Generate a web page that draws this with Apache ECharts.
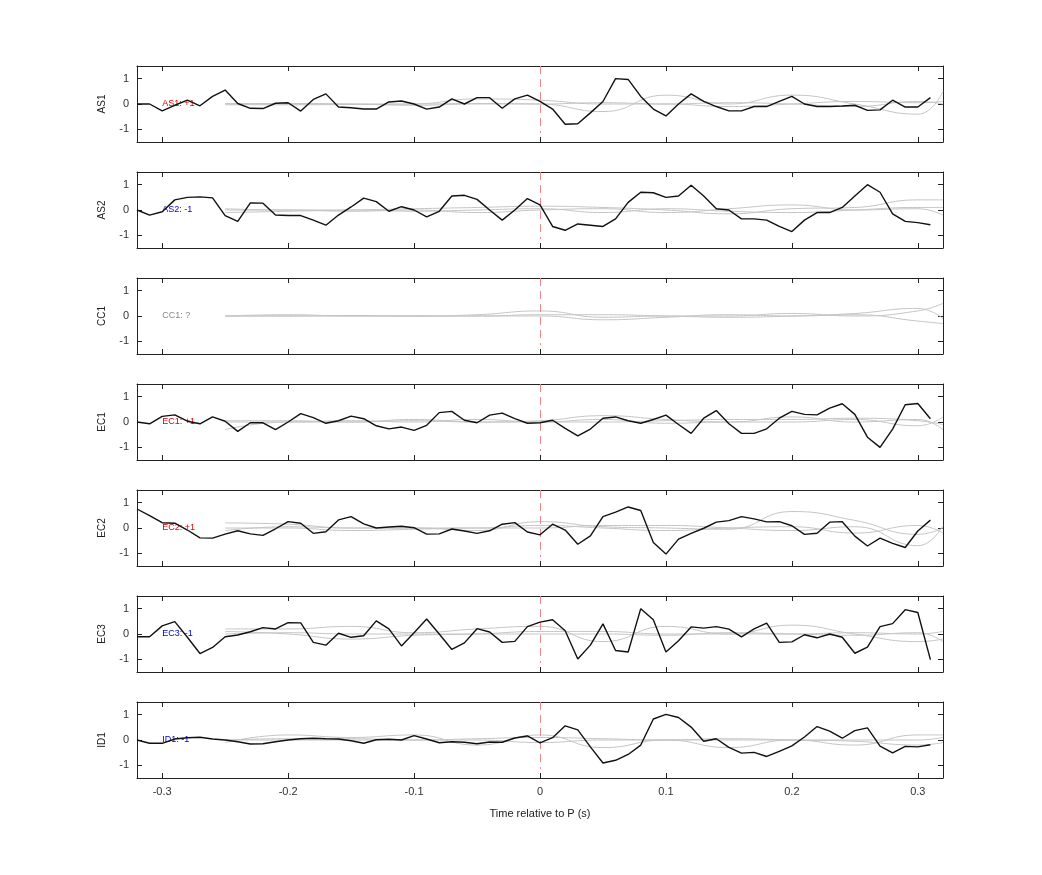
<!DOCTYPE html>
<html>
<head>
<meta charset="utf-8">
<title>Stations</title>
<style>
html,body,#main{margin:0;padding:0;width:1042px;height:875px;background:#fff}
</style>
</head>
<body>
<div id="main"></div>
<script src="https://cdn.jsdelivr.net/npm/echarts@6/dist/echarts.min.js"></script>
<script>
var stations = ['AS1', 'AS2', 'CC1', 'EC1', 'EC2', 'EC3', 'ID1'];
var tags = ['AS1: +1', 'AS2: -1', 'CC1: ?', 'EC1: +1', 'EC2: +1', 'EC3: -1', 'ID1: -1'];
var tagColors = ['#e00000', '#0000d0', '#888888', '#e00000', '#e00000', '#0000d0', '#0000d0'];
var xTicks = [-0.3, -0.2, -0.1, 0, 0.1, 0.2, 0.3];
var yTicks = [-1, 0, 1];

// black trace times: -0.32 .. 0.31 step 0.01
var times = [];
for (var k = -32; k <= 31; k++) times.push(k / 100);

var as1 = [0,0,-0.27,-0.05,0.15,-0.07,0.3,0.55,0.02,-0.17,-0.18,0.03,0.05,-0.28,0.18,0.4,-0.12,-0.15,-0.2,-0.2,0.08,0.12,0,-0.2,-0.12,0.2,0,0.25,0.25,-0.17,0.2,0.35,
  0.1,-0.2,-0.8,-0.78,-0.35,0.1,1.0,0.97,0.3,-0.2,-0.47,0,0.4,0.1,-0.1,-0.27,-0.27,-0.1,-0.1,0.1,0.3,0,-0.1,-0.1,-0.08,-0.05,-0.25,-0.23,0.15,-0.12,-0.12,0.25];
var as2 = [0,-0.2,-0.07,0.4,0.5,0.52,0.48,-0.22,-0.45,0.28,0.27,-0.2,-0.22,-0.22,-0.4,-0.6,-0.2,0.12,0.47,0.33,-0.05,0.13,0,-0.27,-0.05,0.55,0.58,0.42,0,-0.4,0,0.45,
  0.2,-0.65,-0.8,-0.55,-0.6,-0.65,-0.35,0.3,0.7,0.68,0.5,0.55,0.98,0.55,0.05,0,-0.35,-0.35,-0.4,-0.65,-0.85,-0.4,-0.1,-0.1,0.1,0.55,1.0,0.7,-0.15,-0.45,-0.5,-0.58];
var cc1 = null;
var ec1 = [0,-0.07,0.22,0.28,0.03,-0.07,0.2,0.03,-0.37,-0.03,-0.03,-0.3,0,0.33,0.17,-0.05,0.05,0.23,0.13,-0.15,-0.27,-0.2,-0.33,-0.13,0.37,0.42,0.07,-0.03,0.27,0.35,0.13,-0.05,
  -0.03,0.07,-0.25,-0.55,-0.28,0.15,0.2,0.05,-0.05,0.1,0.27,-0.1,-0.45,0.15,0.45,-0.07,-0.45,-0.45,-0.27,0.15,0.42,0.3,0.28,0.55,0.72,0.3,-0.6,-1.0,-0.28,0.68,0.73,0.13];
var ec2 = [0.75,0.49,0.21,0.19,-0.08,-0.39,-0.4,-0.24,-0.11,-0.23,-0.29,-0.03,0.25,0.19,-0.21,-0.15,0.32,0.45,0.16,0,0.04,0.07,0.01,-0.24,-0.23,-0.04,-0.12,-0.21,-0.11,0.15,0.21,-0.16,
  -0.27,0.15,-0.08,-0.64,-0.31,0.45,0.63,0.83,0.69,-0.57,-1.03,-0.44,-0.21,-0.01,0.23,0.29,0.45,0.36,0.24,0.25,0.09,-0.25,-0.21,0.23,0.25,-0.32,-0.71,-0.4,-0.61,-0.77,-0.12,0.31];
var ec3 = [-0.11,-0.11,0.32,0.49,-0.13,-0.77,-0.53,-0.11,-0.04,0.09,0.25,0.2,0.45,0.44,-0.33,-0.44,0.03,-0.13,-0.07,0.52,0.2,-0.47,0.05,0.59,0,-0.61,-0.35,0.21,0.08,-0.33,-0.29,0.29,
  0.47,0.56,0.13,-0.99,-0.44,0.4,-0.65,-0.71,1.0,0.56,-0.71,-0.27,0.28,0.23,0.29,0.19,-0.11,0.2,0.43,-0.33,-0.31,-0.03,-0.15,0,-0.13,-0.76,-0.52,0.29,0.41,0.96,0.85,-1.01];
var id1 = [0,-0.13,-0.13,0.04,0.09,0.11,0.04,0,-0.07,-0.16,-0.15,-0.07,0,0.05,0.07,0.05,0.04,-0.03,-0.13,0.01,0.03,0,0.17,0.04,-0.11,-0.07,-0.09,-0.15,-0.08,-0.09,0.08,0.16,
  -0.11,0.09,0.56,0.4,-0.27,-0.91,-0.8,-0.57,-0.2,0.83,1.01,0.89,0.51,-0.05,0.05,-0.29,-0.52,-0.49,-0.65,-0.45,-0.23,0.12,0.53,0.35,0.07,0.37,0.48,-0.24,-0.51,-0.25,-0.27,-0.19];
var traces = [as1, as2, cc1, ec1, ec2, ec3, id1];

// gray predicted waveforms, coarse knots
var gTimes = [-0.25,-0.2,-0.15,-0.1,-0.05,0,0.05,0.1,0.15,0.2,0.25,0.3,0.32];
var grays = [
  [[0,0,0,0,0.02,0,-0.3,0.35,0,0.35,0,-0.4,0.5],[-0.03,-0.03,-0.02,0,0.2,0.15,0,0,-0.1,0,0.1,0.05,0.1],[0.02,0.02,0,-0.05,0,0,0.05,0,0.05,0,-0.1,0.1,0]],
  [[-0.1,-0.05,0,0.05,0.1,0.15,0.1,0,-0.15,0.05,0.1,0.4,0.4],[0,0,-0.05,0,-0.1,0,0.05,-0.1,0.05,0.2,0,0.05,-0.2],[0.05,0,0,-0.05,0,0.05,-0.1,0.05,-0.05,-0.1,0,0.1,0.1]],
  [[0,0,0,0,0.05,0.2,-0.05,0,0,0.1,0,0.2,0.5],[0,0.05,0,0,0,0,-0.15,-0.05,0.05,0,0.05,-0.2,-0.3],[0,0,0.02,0,0,0.05,0.05,0,-0.05,0,0.1,0.3,-0.1]],
  [[-0.3,0,0,0.05,0,0.05,0.25,0.1,0,0.2,0,0.1,-0.3],[0.05,0.05,0,0.1,0,0,0,0.05,0.1,0.1,0.15,0.05,-0.1],[0,0,0.05,0,0.1,0,0.1,-0.05,0,0,0.1,-0.15,0.2]],
  [[0.2,0.15,0,0,-0.1,0.25,0.05,0,-0.05,0.65,0.3,-0.25,0],[0,0,-0.1,-0.05,0,0,0.1,0.1,0,-0.1,0.05,-0.7,0.1],[-0.1,0.05,0,0,0,0.1,0,-0.1,0,0.05,-0.2,0.1,-0.2]],
  [[0.2,0.2,0.3,0.05,0.2,0.3,-0.3,0.3,0,0.35,0,-0.3,-0.2],[0.1,0,-0.2,-0.05,0,0.1,0.1,0,0,0,0.05,0,0.1],[0,0.05,0,0,0,0,0,-0.05,0.05,0,-0.05,0.05,-0.3]],
  [[-0.1,0.2,0.1,0.2,-0.2,0.2,-0.3,0,-0.3,0,-0.2,0.2,0.2],[0,0,0,0,0.05,0.1,0.05,0,0,0,0,0,0.1],[0,0.05,0.05,0,0,-0.1,0,0,0.05,0,-0.05,-0.2,-0.1]]
];

function zip(xs, ys) { return xs.map(function (x, i) { return [x, ys[i]]; }); }

var font = 'Liberation Sans, Arial, sans-serif';
var grid = [], xAxis = [], yAxis = [], series = [];
stations.forEach(function (name, i) {
  grid.push({ left: 137, width: 806, top: 66 + 106 * i, height: 76 });
  var last = i === stations.length - 1;
  [false, true].forEach(function (top) {
    xAxis.push({
      type: 'value', gridIndex: i, min: -0.32, max: 0.32, position: top ? 'top' : 'bottom',
      axisLine: { show: true, onZero: false, lineStyle: { color: '#222', width: 1 } },
      axisTick: { show: true, inside: true, length: 5, customValues: xTicks, lineStyle: { color: '#222' } },
      axisLabel: { show: last && !top, customValues: xTicks, color: '#333', fontSize: 11, fontFamily: font, margin: 8 },
      splitLine: { show: false },
      name: (last && !top) ? 'Time relative to P (s)' : '', nameLocation: 'middle', nameGap: 30,
      nameTextStyle: { color: '#222', fontSize: 11, fontFamily: font }
    });
    yAxis.push({
      type: 'value', gridIndex: i, min: -1.5, max: 1.5, position: top ? 'right' : 'left',
      axisLine: { show: true, onZero: false, lineStyle: { color: '#222', width: 1 } },
      axisTick: { show: true, inside: true, length: 5, customValues: yTicks, lineStyle: { color: '#222' } },
      axisLabel: { show: !top, customValues: yTicks, color: '#333', fontSize: 11, fontFamily: font, margin: 8 },
      splitLine: { show: false },
      name: top ? '' : name, nameLocation: 'middle', nameGap: 30, nameRotate: 90,
      nameTextStyle: { color: '#222', fontSize: 10, fontFamily: font }
    });
  });
  grays[i].forEach(function (g) {
    series.push({
      type: 'line', xAxisIndex: 2 * i, yAxisIndex: 2 * i, data: zip(gTimes, g), smooth: 0.5,
      showSymbol: false, silent: true, lineStyle: { color: '#c4c4c4', width: 1 }
    });
  });
  series.push({
    type: 'line', xAxisIndex: 2 * i, yAxisIndex: 2 * i, data: traces[i] ? zip(times, traces[i]) : [],
    showSymbol: false, silent: true, lineStyle: { color: '#111', width: 1.4 }, z: 5,
    markLine: {
      silent: true, symbol: 'none', label: { show: false },
      lineStyle: { color: '#e88', type: [8, 5], width: 1 },
      data: [[{ coord: [0, 1.5] }, { coord: [0, -1.15] }]]
    },
    markPoint: {
      silent: true, symbol: 'circle', symbolSize: 0,
      data: [{ coord: [-0.3, 0], label: { show: true, position: 'right', distance: 0, formatter: tags[i],
        color: tagColors[i], fontSize: 9, fontFamily: font } }]
    }
  });
});

var chart = echarts.init(document.getElementById('main'));
chart.setOption({ animation: false, grid: grid, xAxis: xAxis, yAxis: yAxis, series: series });
</script>
</body>
</html>
